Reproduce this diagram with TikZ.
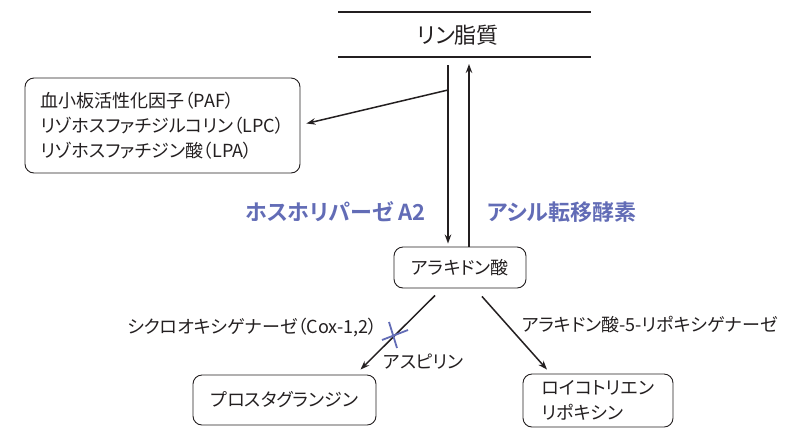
\documentclass[tikz,border=0pt]{standalone}
\usepackage{fontspec}
\setmainfont{Noto Sans CJK JP}[RawFeature=+palt,BoldFont={Noto Sans CJK JP Bold}]
\usetikzlibrary{arrows.meta}
\definecolor{enz}{RGB}{98,108,182}
\definecolor{ink}{RGB}{35,31,32}
\tikzset{
  box/.style={draw=ink, line width=0.9bp, rounded corners=9bp, align=left, inner sep=0pt, text=ink, font=\fontsize{18bp}{25bp}\selectfont},
  arr/.style={draw=ink, line width=1.5bp, -{Stealth[length=9bp,width=6.5bp]}},
  lbl/.style={inner sep=0pt, text=ink, anchor=west, font=\fontsize{18bp}{25bp}\selectfont},
  enzlbl/.style={inner sep=0pt, text=enz, anchor=west, font=\fontsize{22bp}{26bp}\selectfont\bfseries},
  rule/.style={draw=ink, line width=1.8bp},
  cross/.style={draw=enz, line width=1.8bp}
}
\begin{document}
\begin{tikzpicture}[x=1bp,y=-1bp]
\useasboundingbox (0,0) rectangle (805,429);
% phospholipid
\coordinate (l1a) at (338,12); \coordinate (l1b) at (591,12);
\coordinate (l2a) at (338,57); \coordinate (l2b) at (591,57);
\draw[rule] (l1a) -- (l1b);
\draw[rule] (l2a) -- (l2b);
\node[inner sep=0pt, text=ink, font=\fontsize{22bp}{26bp}\selectfont] (lip) at (458,35) {リン脂質};
% boxes
\node[box, minimum width=275bp, minimum height=95bp] (plt) at (162.5,125.5) {血小板活性化因子（PAF）\\リゾホスファチジルコリン（LPC）\\リゾホスファチジン酸（LPA）};
\node[box, minimum width=132bp, minimum height=41bp, align=center] (ara) at (460,267.5) {アラキドン酸};
\node[box, minimum width=183bp, minimum height=50bp, align=center] (pg) at (284.5,400) {プロスタグランジン};
\node[box, minimum width=150bp, minimum height=53bp] (lt) at (598,400.5) {ロイコトリエン\\リポキシン};
% vertical arrows
\coordinate (dtop) at (448,65);
\coordinate (utop) at (469,64);
\coordinate (br) at (448,90);
\draw[arr] (dtop) -- ([yshift=3bp]dtop |- ara.north);
\draw[arr] (utop |- ara.north) -- (utop);
\draw[arr] (br) -- ([xshift=6bp,yshift=2bp]plt.east);
% lower arrows
\draw[arr] ([xshift=-25bp,yshift=-7bp]ara.south) -- ([xshift=76bp,yshift=5bp]pg.north);
\draw[arr] ([xshift=22bp,yshift=-8bp]ara.south) -- ([xshift=-51bp,yshift=4bp]lt.north);
% aspirin cross
\coordinate (c1) at (382,340); \coordinate (c2) at (408,330);
\coordinate (c3) at (389,322); \coordinate (c4) at (397,348);
\draw[cross] (c1) -- (c2);
\draw[cross] (c3) -- (c4);
% labels
\node[enzlbl] (pla) at (245,212) {ホスホリパーゼ A2};
\node[enzlbl] (act) at (487,212) {アシル転移酵素};
\node[lbl] (cox) at (127,327) {シクロオキシゲナーゼ（Cox-1,2）};
\node[lbl] (asp) at (383,362) {アスピリン};
\node[lbl] (lox) at (522,325) {アラキドン酸-5-リポキシゲナーゼ};
\end{tikzpicture}
\end{document}
